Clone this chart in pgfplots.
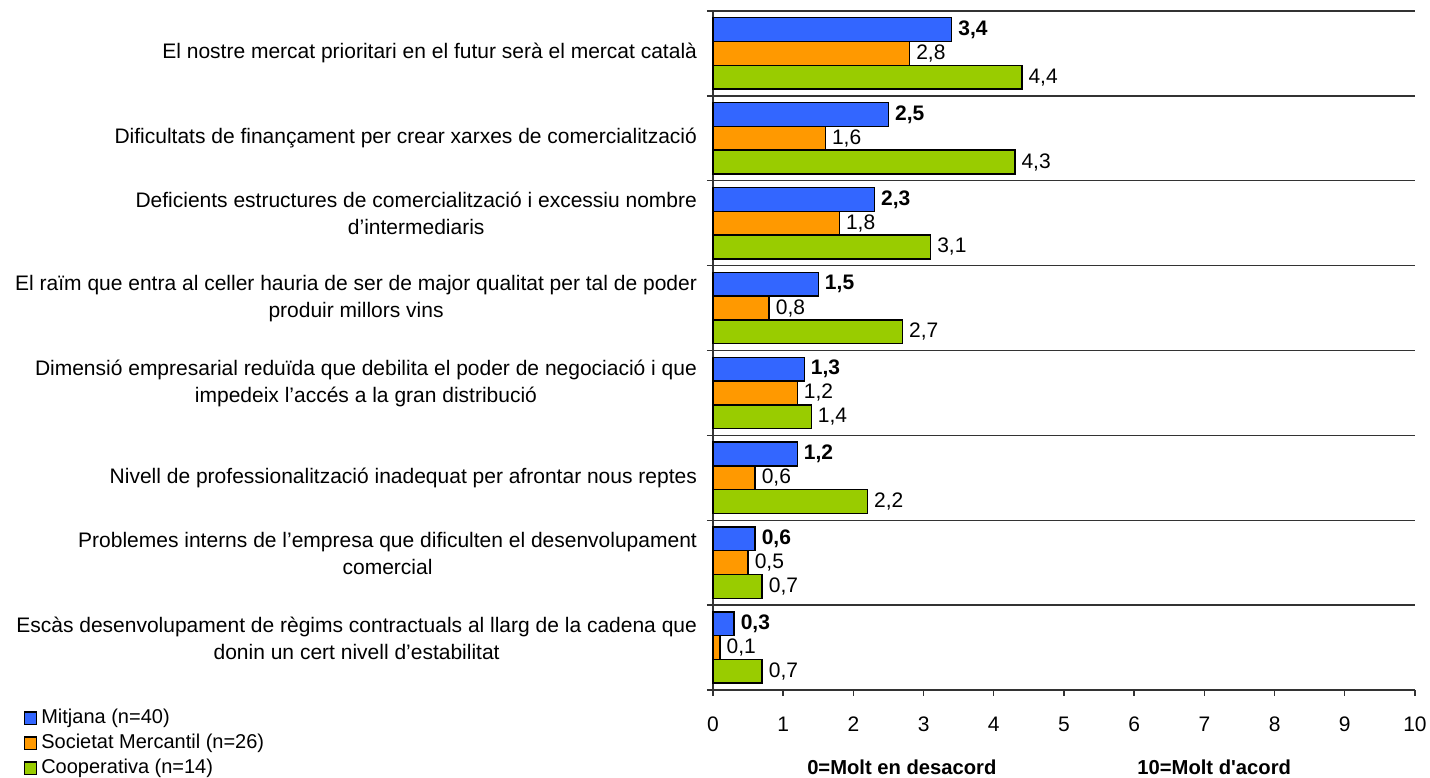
\documentclass[border=0pt]{standalone}
\usepackage{pgfplots}
\pgfplotsset{compat=1.18}
\usepackage{fontspec}
\setmainfont{Liberation Sans}
\definecolor{cblue}{HTML}{3366FF}
\definecolor{corange}{HTML}{FF9900}
\definecolor{cgreen}{HTML}{99CC00}

\begin{document}
\begin{tikzpicture}
\begin{axis}[
    xbar, scale only axis,
    width=351pt, height=339.5pt,
    xmin=0, xmax=10, ymin=-0.5, ymax=7.5,
    axis x line*=bottom, axis y line*=left,
    axis line style={black!80, line width=0.7pt},
    xtick={0,...,10},
    % single-line labels sit on the category centre
    ytick={2,6,7},
    yticklabels={
      {Nivell de professionalització inadequat per afrontar nous reptes},
      {Dificultats de finançament per crear xarxes de comercialització},
      {El nostre mercat prioritari en el futur serà el mercat català}
    },
    % two-line labels sit a little higher
    extra y ticks={0.112,1.112,3.112,4.112,5.112},
    extra y tick labels={
      {Escàs desenvolupament de règims contractuals al llarg de la cadena que\\donin un cert nivell d’estabilitat},
      {Problemes interns de l’empresa que dificulten el desenvolupament\\comercial},
      {Dimensió empresarial reduïda que debilita el poder de negociació i que\\impedeix l’accés a la gran distribució},
      {El raïm que entra al celler hauria de ser de major qualitat per tal de poder\\produir millors vins},
      {Deficients estructures de comercialització i excessiu nombre\\d’intermediaris}
    },
    extra y tick style={tick style={draw=none}},
    minor ytick={-0.5,0.5,...,7.5},
    yminorgrids=true,
    minor grid style={black!80, line width=0.7pt},
    major y tick style={draw=none},
    tick align=outside,
    major tick length=3pt, minor tick length=3pt,
    tick style={black!80, line width=0.7pt},
    /pgf/number format/assume math mode=true,
    font=\fontsize{10.5}{13.5}\selectfont,
    xticklabel style={yshift=-7pt},
    yticklabel style={align=center, xshift=-1.5pt},
    bar width=0.28,
    point meta=x,
    nodes near coords={\pgfmathprintnumber[fixed,fixed zerofill,precision=1,use comma]{\pgfplotspointmeta}},
    every node near coord/.append style={font=\fontsize{10.5}{12}\selectfont, inner xsep=3pt},
    clip=false,
    legend style={at={(rel axis cs:-0.991,-0.018)}, anchor=north west, draw=none, fill=none,
      font=\fontsize{10}{12}\selectfont, row sep=1pt, cells={anchor=west},
      nodes={inner ysep=0.5pt, inner xsep=2pt, text height=8pt, text depth=2.5pt}},
    legend image code/.code={\draw[#1, draw=black, line width=0.6pt] (0pt,-3.1pt) rectangle (6.2pt,3.1pt);},
]
\addplot[fill=cblue, draw=black, line width=0.7pt, bar shift=0.28,
  every node near coord/.append style={font=\fontsize{10.5}{12}\selectfont\bfseries}]
  coordinates {(0.3,0) (0.6,1) (1.2,2) (1.3,3) (1.5,4) (2.3,5) (2.5,6) (3.4,7)};
\addplot[fill=corange, draw=black, line width=0.7pt, bar shift=0]
  coordinates {(0.1,0) (0.5,1) (0.6,2) (1.2,3) (0.8,4) (1.8,5) (1.6,6) (2.8,7)};
\addplot[fill=cgreen, draw=black, line width=0.7pt, bar shift=-0.28]
  coordinates {(0.7,0) (0.7,1) (2.2,2) (1.4,3) (2.7,4) (3.1,5) (4.3,6) (4.4,7)};
\legend{Mitjana (n=40), Societat Mercantil (n=26), Cooperativa (n=14)}
\node[font=\fontsize{10.1}{12}\selectfont\bfseries] at (axis cs:2.69,-0.5) [yshift=-38.5pt] {0=Molt en desacord};
\node[font=\fontsize{10.1}{12}\selectfont\bfseries] at (axis cs:7.14,-0.5) [yshift=-38.5pt] {10=Molt d\textquotesingle acord};
\coordinate (sw) at (rel axis cs:0,0);
\coordinate (ne) at (rel axis cs:1,1);
\end{axis}
\pgfresetboundingbox
\path[use as bounding box] ([xshift=-356.5pt, yshift=-44pt]sw) rectangle ([xshift=7.5pt, yshift=5.5pt]ne);
\end{tikzpicture}
\end{document}
